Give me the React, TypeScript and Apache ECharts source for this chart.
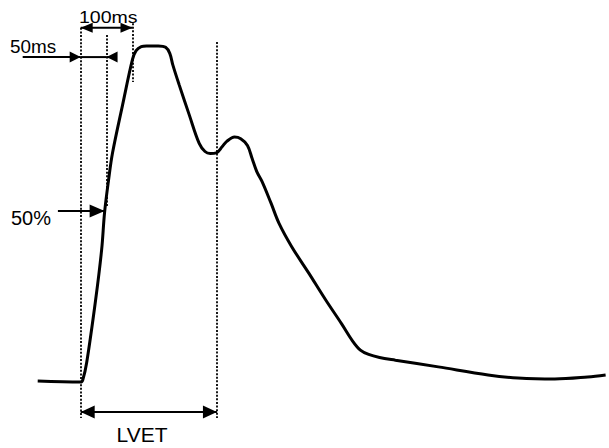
import React, { useEffect, useRef } from "react";
import * as echarts from "echarts";

// Pressure waveform: time in ms (0 = onset of ejection), amplitude in % of peak
const timeMs = [-83, 0, 4, 11.5, 28.8, 40.4, 46.2, 53.8, 61.5, 80.8, 100, 107, 117, 127, 150, 164, 172, 178, 190, 209.6, 228.8, 240, 250, 262, 273, 282, 297, 309, 322, 331, 340, 350, 367.3, 382.7, 407.7, 440.4, 473.1, 503.8, 525, 540, 556, 577, 607.7, 690.4, 786.5, 844.2, 915.4, 978.8, 1013.5];
const amplitude = [0.3, 0, 0.6, 5.7, 24.4, 39.3, 50.6, 60.1, 68.2, 82.4, 96, 98.6, 99.8, 100, 100, 99.6, 97.8, 94.3, 88.5, 79.5, 71, 68.6, 68, 68.2, 70, 71.6, 72.9, 72.4, 70.4, 66.5, 62.6, 59.7, 53.3, 47.3, 40.2, 32.4, 24.4, 17.3, 12.2, 9.5, 8.2, 7.3, 6.5, 4.5, 2.1, 1.2, 0.9, 1.5, 2.1];

// Dotted reference lines (time, top, bottom)
const dividerTimes = [0, 50, 100, 263];
const dividerTop = [105.4, 103.3, 106.8, 101.2];
const dividerBottom = [-10.7, 52, 89.3, -10.7];

// Arrows: from time, to time, level, head at start (1/0), head at end (1/0)
const arrowFrom = [0, -112, 0, 69, -44, 0];
const arrowTo = [100, 0, 50, 50, 46.2, 263];
const arrowLevel = [105.4, 96.7, 96.7, 96.7, 50.9, -8.9];
const arrowStartHead = [1, 0, 0, 0, 0, 1];
const arrowEndHead = [1, 1, 0, 1, 1, 1];

const FONT = "'Liberation Sans', Arial, sans-serif";

export default function App() {
  const ref = useRef<HTMLDivElement>(null);

  useEffect(() => {
    if (!ref.current) return;
    const chart = echarts.init(ref.current, undefined, { renderer: "svg" });

    const curve = timeMs.map((t, i) => [t, amplitude[i]]);
    const dotted = { type: [2, 1.6] as any, width: 1.8, color: "#000" };

    const dividerLines = dividerTimes.map((t, i) => [
      { coord: [t, dividerTop[i]], symbol: "none", lineStyle: dotted },
      { coord: [t, dividerBottom[i]], symbol: "none" },
    ]);

    const arrowData = arrowFrom.map((f, i) => [
      f,
      arrowTo[i],
      arrowLevel[i],
      arrowStartHead[i],
      arrowEndHead[i],
    ]);

    const headSize = [
      [12, 5],
      [11, 5.5],
      [11, 5.5],
      [11, 5.5],
      [15, 6.5],
      [14, 6.5],
    ];

    const renderArrow = (params: any, api: any) => {
      const i = params.dataIndex;
      const p0 = api.coord([api.value(0), api.value(2)]);
      const p1 = api.coord([api.value(1), api.value(2)]);
      const [L, W] = headSize[i];
      const children: any[] = [
        {
          type: "line",
          shape: { x1: p0[0], y1: p0[1], x2: p1[0], y2: p1[1] },
          style: { stroke: "#000", lineWidth: 2 },
        },
      ];
      const head = (tip: number[], other: number[]) => {
        const d = tip[0] >= other[0] ? 1 : -1;
        return {
          type: "polygon",
          shape: {
            points: [
              [tip[0], tip[1]],
              [tip[0] - d * L, tip[1] - W],
              [tip[0] - d * L, tip[1] + W],
            ],
          },
          style: { fill: "#000" },
        };
      };
      if (api.value(3)) children.push(head(p0, p1));
      if (api.value(4)) children.push(head(p1, p0));
      return { type: "group", children };
    };

    const txt = (text: string, x: number, y: number, size: number, align: string, sx = 1) => ({
      type: "text",
      x,
      y,
      scaleX: sx,
      style: {
        text,
        fontSize: size,
        fontFamily: FONT,
        fill: "#000",
        textAlign: align,
        textVerticalAlign: "middle",
      },
    });

    chart.setOption({
      animation: false,
      backgroundColor: "#fff",
      textStyle: { fontFamily: FONT },
      grid: { left: 3, top: 12.4, width: 608.4, height: 430.08 },
      xAxis: { type: "value", min: -150, max: 1020, show: false },
      yAxis: { type: "value", min: -18, max: 110, show: false },
      series: [
        {
          type: "line",
          data: curve,
          smooth: 0.35,
          symbol: "none",
          clip: false,
          lineStyle: { color: "#000", width: 3 },
          markLine: {
            silent: true,
            animation: false,
            label: { show: false },
            emphasis: { disabled: true },
            data: dividerLines as any,
          },
        },
        {
          type: "custom",
          silent: true,
          clip: false,
          data: arrowData,
          renderItem: renderArrow,
        },
      ],
      graphic: [
        txt("100ms", 79, 17, 17, "left", 1.15),
        txt("50ms", 10, 46.5, 18, "left", 1.05),
        txt("50%", 11, 218, 20, "left"),
        txt("LVET", 142, 435, 20, "center", 1.05),
      ],
    });

    return () => chart.dispose();
  }, []);

  return (
    <div
      ref={ref}
      style={{ position: "fixed", left: 0, top: 0, width: 609, height: 448, background: "#fff" }}
    />
  );
}
